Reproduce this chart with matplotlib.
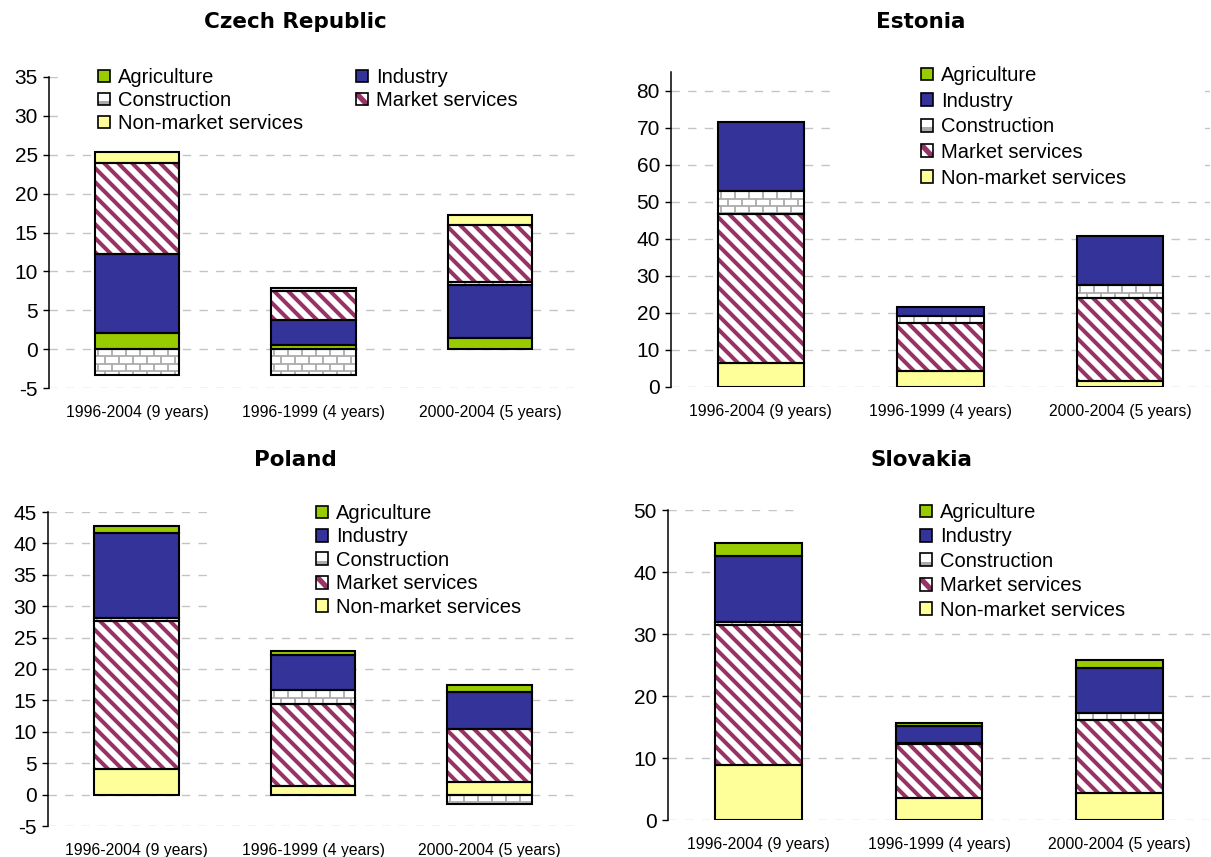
import numpy as np
import matplotlib
matplotlib.use("Agg")
import matplotlib.pyplot as plt
from matplotlib.patches import Rectangle, Patch, Polygon
from matplotlib.collections import LineCollection

plt.rcParams["font.family"] = ["Liberation Sans", "DejaVu Sans"]
plt.rcParams["axes.unicode_minus"] = False

# ---------------------------------------------------------------- data
periods = ["1996-2004 (9 years)", "1996-1999 (4 years)", "2000-2004 (5 years)"]
sectors = ["Agriculture", "Industry", "Construction", "Market services",
           "Non-market services"]

# Sector contributions, percentage points
cz_agriculture = [2.1, 0.5, 1.4]
cz_industry = [10.1, 3.3, 6.8]
cz_construction = [-3.3, -3.3, 0.4]
cz_market = [11.7, 3.7, 7.4]
cz_nonmarket = [1.5, 0.3, 1.2]

ee_agriculture = [0.0, 0.0, 0.0]
ee_industry = [18.7, 2.4, 13.2]
ee_construction = [6.1, 1.8, 3.4]
ee_market = [40.3, 13.0, 22.6]
ee_nonmarket = [6.5, 4.4, 1.5]

pl_agriculture = [1.1, 0.5, 1.0]
pl_industry = [13.4, 5.7, 5.9]
pl_construction = [0.6, 2.2, -1.5]
pl_market = [23.5, 13.0, 8.5]
pl_nonmarket = [4.1, 1.4, 2.0]

sk_agriculture = [2.1, 0.6, 1.3]
sk_industry = [10.7, 2.7, 7.2]
sk_construction = [0.5, 0.1, 1.1]
sk_market = [22.6, 8.8, 11.8]
sk_nonmarket = [8.8, 3.5, 4.4]

# ---------------------------------------------------------------- style
AGRI = "#99CC00"
IND = "#333399"
NONM = "#FFFF99"
MKT = "#993366"
MORTAR = "#ABABAB"
GRID = "#C4C4C4"
BAR_W = 0.48
EDGE_LW = 1.5
LEG_FS = 14.5

W, H = 1211, 857
fig = plt.figure(figsize=(W / 100, H / 100), dpi=100)


def axes_at(left, top, right, bottom):
    return fig.add_axes([left / W, 1 - bottom / H, (right - left) / W,
                         (bottom - top) / H])


def pixel_box(ax, patch):
    x0, y0 = patch.get_x(), patch.get_y()
    w, h = patch.get_width(), patch.get_height()
    (a, b), (c, d) = ax.transData.transform([(x0, y0), (x0 + w, y0 + h)])
    return min(a, c), min(b, d), max(a, c), max(b, d)


def add_lines(ax, patch, segs_px, color, lw, z):
    inv = ax.transData.inverted()
    segs = [inv.transform(s) for s in segs_px]
    lc = LineCollection(segs, colors=color, linewidths=lw, zorder=z,
                        capstyle="butt")
    ax.add_collection(lc, autolim=False)
    lc.set_clip_path(patch)


def add_stripes(ax, patch, spacing=14.0):
    l, b, r, t = pixel_box(ax, patch)
    start = np.floor((l + b) / spacing) * spacing - spacing
    segs = []
    for c in np.arange(start, r + t + spacing, spacing):
        segs.append([(c - t - 10, t + 10), (c - b + 10, b - 10)])
    add_lines(ax, patch, segs, MKT, 2.9, 2.5)


def add_bricks(ax, patch, bw=14.0, bh=7.3):
    l, b, r, t = pixel_box(ax, patch)
    segs = []
    nrows = int(np.ceil((t - b) / bh)) + 1
    for k in range(nrows):
        y = t - k * bh
        segs.append([(l - 2, y), (r + 2, y)])
        off = (bw / 2) * (k % 2)
        for x in np.arange(l - bw + off + 3, r + bw, bw):
            segs.append([(x, y), (x, y - bh)])
    add_lines(ax, patch, segs, MORTAR, 1.3, 2.5)


FACES = {"Agriculture": AGRI, "Industry": IND, "Construction": "white",
         "Market services": "white", "Non-market services": NONM}


def draw_stack(ax, order, values):
    xs = np.arange(len(periods))
    pos = np.zeros(len(periods))
    neg = np.zeros(len(periods))
    for name, vals in zip(order, values):
        for i, v in enumerate(vals):
            if v == 0:
                continue
            base = pos[i] if v > 0 else neg[i]
            fill = ax.bar(xs[i], v, BAR_W, bottom=base, color=FACES[name],
                          linewidth=0, zorder=2)[0]
            if name == "Construction":
                add_bricks(ax, fill)
            elif name == "Market services":
                add_stripes(ax, fill)
            ax.bar(xs[i], v, BAR_W, bottom=base, fill=False,
                   edgecolor="black", linewidth=EDGE_LW, zorder=4,
                   joinstyle="miter")
            if v > 0:
                pos[i] += v
            else:
                neg[i] += v


def style_axes(ax, ylim, yticks):
    ax.set_xlim(-0.5, len(periods) - 0.5)
    ax.set_ylim(*ylim)
    ax.set_yticks(yticks)
    ax.set_xticks(np.arange(len(periods)))
    ax.set_xticklabels(periods)
    for s in ("top", "right", "bottom"):
        ax.spines[s].set_visible(False)
    ax.spines["left"].set_linewidth(1.1)
    ax.spines["left"].set_color("black")
    ax.set_axisbelow(True)
    ax.yaxis.grid(True, color=GRID, linestyle=(0, (6, 6)), linewidth=1.0)
    ax.tick_params(axis="y", direction="out", length=4, width=1.0,
                   labelsize=15, pad=4)
    ax.tick_params(axis="x", length=0, labelsize=11.3, pad=12)


def white_box(ax, x0, y0, x1, y1):
    ax.add_patch(Rectangle((x0 / W, 1 - y1 / H), (x1 - x0) / W, (y1 - y0) / H,
                           transform=fig.transFigure, facecolor="white",
                           edgecolor="none", zorder=1))


class SwatchHandler:
    """Small legend swatch imitating the patterned bar fills."""

    def __init__(self, kind):
        self.kind = kind

    def legend_artist(self, legend, orig_handle, fontsize, handlebox):
        x0, y0 = -handlebox.xdescent, -handlebox.ydescent
        w, h = handlebox.width, handlebox.height
        tr = handlebox.get_transform()
        arts = [Rectangle((x0, y0), w, h, facecolor="white",
                          edgecolor="none", transform=tr)]
        if self.kind == "market":
            arts.append(Polygon([(x0, y0 + h), (x0 + 0.3 * w, y0 + h),
                                 (x0 + w, y0 + 0.3 * h), (x0 + w, y0),
                                 (x0 + 0.7 * w, y0), (x0, y0 + 0.7 * h)],
                                closed=True, facecolor=MKT, edgecolor="none",
                                transform=tr))
        elif self.kind == "construction":
            arts.append(Rectangle((x0, y0), w, 0.35 * h, facecolor=MORTAR,
                                  edgecolor="none", transform=tr))
        arts.append(Rectangle((x0, y0), w, h, fill=False, edgecolor="black",
                              linewidth=1.2, transform=tr))
        for a in arts:
            handlebox.add_artist(a)
        return arts[-1]


def add_legend(ax, names, x, y, ncol=1, labelspacing=0.1, colspacing=2.6):
    handles = {
        "Agriculture": Patch(facecolor=AGRI, edgecolor="black", linewidth=1.2),
        "Industry": Patch(facecolor=IND, edgecolor="black", linewidth=1.2),
        "Construction": Patch(facecolor="white"),
        "Market services": Patch(facecolor="white"),
        "Non-market services": Patch(facecolor=NONM, edgecolor="black",
                                     linewidth=1.2),
    }
    hmap = {handles["Construction"]: SwatchHandler("construction"),
            handles["Market services"]: SwatchHandler("market")}
    leg = ax.legend([handles[n] for n in names], names, loc="upper left",
                    bbox_to_anchor=(x / W, 1 - y / H),
                    bbox_transform=fig.transFigure, frameon=False,
                    fontsize=LEG_FS, handlelength=0.6, handleheight=0.6,
                    handletextpad=0.4, labelspacing=labelspacing,
                    borderpad=0, borderaxespad=0, ncol=ncol,
                    columnspacing=colspacing, handler_map=hmap)
    leg.set_zorder(6)


def title(x, y, text):
    fig.text(x / W, 1 - y / H, text, ha="center", va="center",
             fontsize=15.5, fontweight="bold", family="DejaVu Sans")


up_order = ["Agriculture", "Industry", "Construction", "Market services",
            "Non-market services"]
down_order = ["Non-market services", "Market services", "Construction",
              "Industry", "Agriculture"]

# ---------------------------------------------------------------- Czech Republic
ax_cz = axes_at(49, 77, 578, 388)
style_axes(ax_cz, (-5, 35), np.arange(-5, 36, 5))
draw_stack(ax_cz, up_order,
           [cz_agriculture, cz_industry, cz_construction, cz_market,
            cz_nonmarket])
white_box(ax_cz, 66, 64, 580, 134)
add_legend(ax_cz, ["Agriculture", "Construction", "Non-market services",
                   "Industry", "Market services"], 98, 68, ncol=2,
           labelspacing=0.2)
title(295, 22, "Czech Republic")

# ---------------------------------------------------------------- Estonia
ax_ee = axes_at(671, 72.5, 1210, 387)
style_axes(ax_ee, (0, 85), np.arange(0, 81, 10))
draw_stack(ax_ee, down_order,
           [ee_nonmarket, ee_market, ee_construction, ee_industry,
            ee_agriculture])
white_box(ax_ee, 835, 60, 1205, 190)
add_legend(ax_ee, sectors, 921, 66, labelspacing=0.33)
title(921, 22, "Estonia")

# ---------------------------------------------------------------- Poland
ax_pl = axes_at(48, 512, 578, 826)
style_axes(ax_pl, (-5, 45), np.arange(-5, 46, 5))
draw_stack(ax_pl, down_order,
           [pl_nonmarket, pl_market, pl_construction, pl_industry,
            pl_agriculture])
white_box(ax_pl, 212, 498, 580, 620)
add_legend(ax_pl, sectors, 316, 504, labelspacing=0.22)
title(295, 460, "Poland")

# ---------------------------------------------------------------- Slovakia
ax_sk = axes_at(668, 510, 1210, 820)
style_axes(ax_sk, (0, 50), np.arange(0, 51, 10))
draw_stack(ax_sk, down_order,
           [sk_nonmarket, sk_market, sk_construction, sk_industry,
            sk_agriculture])
white_box(ax_sk, 802, 498, 1210, 622)
add_legend(ax_sk, sectors, 920, 503, labelspacing=0.27)
title(921, 460, "Slovakia")

fig.savefig("out.png", dpi=100)
